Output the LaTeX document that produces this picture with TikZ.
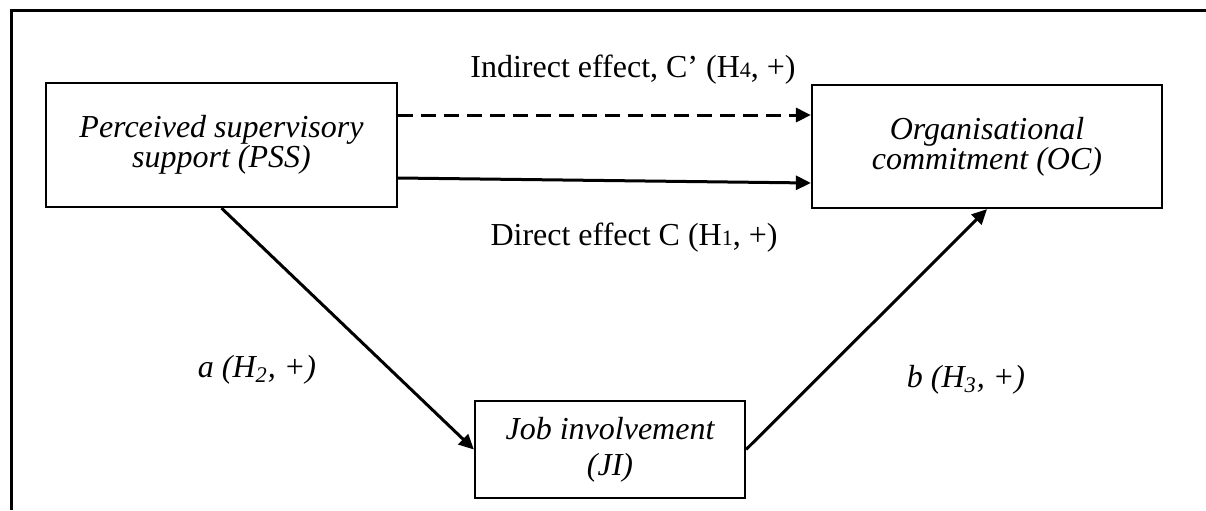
\documentclass[tikz,border=0pt]{standalone}
\usepackage{fontspec}
\setmainfont{Liberation Serif}
\usetikzlibrary{arrows.meta,positioning}
\newcommand{\smalldigit}[1]{{\fontsize{11}{11}\selectfont #1}}

\begin{document}
\begin{tikzpicture}[
  x=0.5pt, y=-0.5pt,
  box/.style={draw, line width=1.1pt, rectangle, align=center, inner sep=0pt,
    font=\fontsize{16}{15}\selectfont\itshape},
  arr/.style={-{Triangle[length=7.5pt,width=7pt]}, line width=1.5pt},
  lbl/.style={inner sep=0pt, font=\fontsize{16}{18}\selectfont}]
\useasboundingbox (0,0) rectangle (1206,510);
% outer frame
\draw[line width=1.5pt] (11,510) -- (11,10) -- (1206,10);
% variables
\node[box, minimum width=175.5pt, minimum height=62pt] (PSS) at (221.5,145) {Perceived supervisory\\support (PSS)};
\node[box, minimum width=175pt, minimum height=61.5pt] (OC) at (987,146.5) {Organisational\\commitment (OC)};
\node[box, minimum width=135pt, minimum height=48.5pt, font=\fontsize{16}{18}\selectfont\itshape] (JI) at (610,449.5) {Job involvement\\(JI)};
% paths
\draw[arr, dash pattern=on 7.5pt off 4pt] ([yshift=15pt]PSS.east) -- ([yshift=15.75pt]OC.west);
\draw[arr] ([yshift=-16.5pt]PSS.east) -- ([yshift=-18.25pt]OC.west);
\draw[arr] (PSS.south) -- (JI.west);
\draw[arr] (JI.east) -- (OC.south);
% labels
\node[lbl] (indirect) at (633,70) {Indirect effect, C’ (H\smalldigit{4}, +)};
\node[lbl] (direct) at (634,238) {Direct effect C (H\smalldigit{1}, +)};
\node[lbl, font=\fontsize{16}{18}\selectfont\itshape] (pathA) at (257,370) {a (H\textsubscript{2}, +)};
\node[lbl, font=\fontsize{16}{18}\selectfont\itshape] (pathB) at (966,380) {b (H\textsubscript{3}, +)};
\end{tikzpicture}
\end{document}
